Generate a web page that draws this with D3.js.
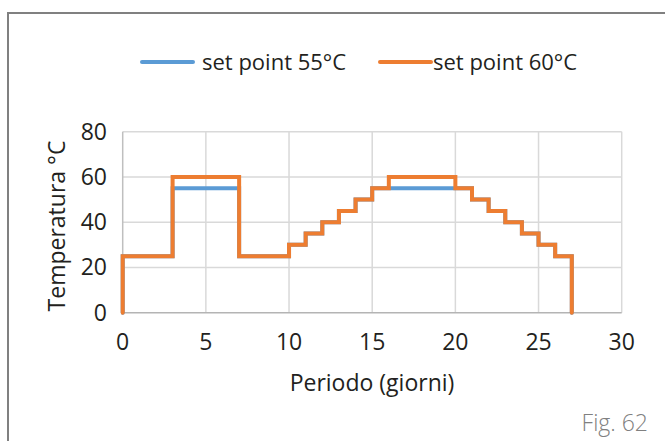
<!DOCTYPE html>
<html>
<head>
<meta charset="utf-8">
<script src="https://cdn.jsdelivr.net/npm/d3@7"></script>
<style>
  body { margin: 0; background: #fff; }
  svg text { font-family: "Open Sans", "Noto Sans", sans-serif; fill: #231f20; }
</style>
</head>
<body>
<svg id="chart" width="665" height="441"></svg>
<script>
// day at which each step starts (first point is the rise from 0)
var days = [0, 0, 1, 2, 3, 4, 5, 6, 7, 8, 9, 10, 11, 12, 13, 14, 15, 16, 17, 18, 19, 20, 21, 22, 23, 24, 25, 26, 27];
var setPoint55 = [0, 25, 25, 25, 55, 55, 55, 55, 25, 25, 25, 30, 35, 40, 45, 50, 55, 55, 55, 55, 55, 55, 50, 45, 40, 35, 30, 25, 0];
var setPoint60 = [0, 25, 25, 25, 60, 60, 60, 60, 25, 25, 25, 30, 35, 40, 45, 50, 55, 60, 60, 60, 60, 55, 50, 45, 40, 35, 30, 25, 0];

var xTicks = [0, 5, 10, 15, 20, 25, 30];
var yTicks = [0, 20, 40, 60, 80];

var seriesNames = ["set point 55°C", "set point 60°C"];
var seriesColors = ["#5b9bd5", "#ed7d31"];

var svg = d3.select("#chart");

var x = d3.scaleLinear().domain([0, 30]).range([122.7, 621.7]);
var y = d3.scaleLinear().domain([0, 80]).range([312.7, 131.7]);

// outer frame (only top and left are visible)
svg.append("path")
    .attr("d", "M8,441V13H665")
    .attr("fill", "none")
    .attr("stroke", "#808080")
    .attr("stroke-width", 2);

// gridlines
svg.append("g").selectAll("line")
    .data(yTicks.filter(function(d) { return d > 0; }))
    .enter().append("line")
    .attr("x1", x(0)).attr("x2", x(30))
    .attr("y1", function(d) { return y(d); })
    .attr("y2", function(d) { return y(d); })
    .attr("stroke", "#d9d9d9")
    .attr("stroke-width", 1.5);

svg.append("g").selectAll("line")
    .data(xTicks.filter(function(d) { return d > 0; }))
    .enter().append("line")
    .attr("x1", function(d) { return x(d); })
    .attr("x2", function(d) { return x(d); })
    .attr("y1", y(0)).attr("y2", y(80))
    .attr("stroke", "#d9d9d9")
    .attr("stroke-width", 1.5);

// axis lines
svg.append("line")
    .attr("x1", x(0)).attr("x2", x(0))
    .attr("y1", y(0)).attr("y2", y(80))
    .attr("stroke", "#bfbfbf").attr("stroke-width", 1.5);
svg.append("line")
    .attr("x1", x(0)).attr("x2", x(30))
    .attr("y1", y(0)).attr("y2", y(0))
    .attr("stroke", "#b4b4b4").attr("stroke-width", 1.5);

// tick labels
svg.append("g").selectAll("text")
    .data(xTicks)
    .enter().append("text")
    .attr("x", function(d) { return x(d); })
    .attr("y", 350)
    .attr("text-anchor", "middle")
    .style("font-size", "23px")
    .text(function(d) { return d; });

svg.append("g").selectAll("text")
    .data(yTicks)
    .enter().append("text")
    .attr("x", 107)
    .attr("y", function(d) { return y(d) + 8; })
    .attr("text-anchor", "end")
    .style("font-size", "23px")
    .text(function(d) { return d; });

// axis titles
svg.append("text")
    .attr("x", 372)
    .attr("y", 391)
    .attr("text-anchor", "middle")
    .style("font-size", "23px")
    .text("Periodo (giorni)");

svg.append("text")
    .attr("transform", "translate(65,226) rotate(-90)")
    .attr("text-anchor", "middle")
    .style("font-size", "23px")
    .text("Temperatura °C");

// step lines
var line = d3.line()
    .x(function(d) { return x(d[0]); })
    .y(function(d) { return y(d[1]); })
    .curve(d3.curveStepAfter);

[setPoint55, setPoint60].forEach(function(vals, i) {
    svg.append("path")
        .datum(days.map(function(d, j) { return [d, vals[j]]; }))
        .attr("d", line)
        .attr("fill", "none")
        .attr("stroke", seriesColors[i])
        .attr("stroke-width", 4)
        .attr("stroke-linecap", "round");
});

// legend
var legendX = [142, 380];
var legend = svg.append("g").selectAll("g")
    .data(seriesNames)
    .enter().append("g")
    .attr("transform", function(d, i) { return "translate(" + legendX[i] + ",62)"; });
legend.append("line")
    .attr("x1", 0).attr("x2", 51)
    .attr("stroke", function(d, i) { return seriesColors[i]; })
    .attr("stroke-width", 4)
    .attr("stroke-linecap", "round");
legend.append("text")
    .attr("x", function(d, i) { return i == 0 ? 60 : 53; })
    .attr("y", 8)
    .style("font-size", "22px")
    .text(function(d) { return d; });

// figure label
svg.append("text")
    .attr("x", 648)
    .attr("y", 431)
    .attr("text-anchor", "end")
    .style("font-size", "23px")
    .style("font-weight", 300)
    .style("fill", "#808080")
    .text("Fig. 62");
</script>
</body>
</html>
